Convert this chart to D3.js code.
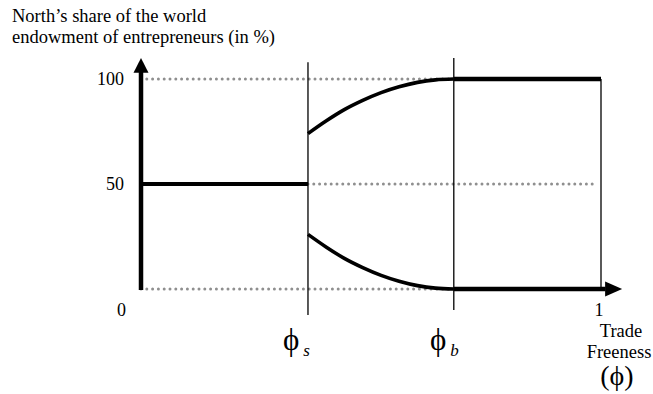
<!DOCTYPE html>
<html>
<head>
<meta charset="utf-8">
<script src="https://cdn.jsdelivr.net/npm/d3@7"></script>
<style>
  html, body { margin: 0; padding: 0; background: #fff; }
  text { font-family: "Liberation Serif", "Times New Roman", serif; fill: #000; }
</style>
</head>
<body>
<div id="chart"></div>
<script>
// # Thresholds on the trade freeness axis.
const phiS = 0.363
const phiB = 0.68

// # Share for phi below phiS (symmetric outcome).
const symPhi = [0, phiS]
const symShare = [50, 50]

// # Upper branch (core country) between phiS and phiB, then full agglomeration.
const branchPhi = [0.363, 0.403, 0.442, 0.482, 0.522, 0.561, 0.601, 0.640, 0.68]
const upperShare = [74, 80.1, 85.4, 89.8, 93.5, 96.3, 98.4, 99.6, 100]
const lowerShare = [26, 19.9, 14.6, 10.2, 6.5, 3.7, 1.6, 0.4, 0]
const corePhi = [phiB, 1]
const coreShare = [100, 100]

// # Tick labels.
const yTicks = [0, 50, 100]
const xTickLabel = '1'

const width = 653
const height = 394

const x = d3.scaleLinear().domain([0, 1]).range([141, 601])
const y = d3.scaleLinear().domain([0, 100]).range([289, 79])

const svg = d3.select('#chart')
  .append('svg')
  .attr('width', width)
  .attr('height', height)

const line = d3.line()
  .x(d => x(d[0]))
  .y(d => y(d[1]))

// # Dotted guide lines.
const dotted = (x1, x2, v) => {
  svg.append('line')
    .attr('x1', x(x1)).attr('x2', x(x2))
    .attr('y1', y(v)).attr('y2', y(v))
    .attr('stroke', '#8f8f8f')
    .attr('stroke-width', 3)
    .attr('stroke-linecap', 'round')
    .attr('stroke-dasharray', '0 5.8')
}
dotted(0, phiB, 100)
dotted(phiS, 0.985, 50)
dotted(0, phiB, 0)

// # Thin vertical lines at phiS, phiB and 1.
const vline = (p, top, bottom) => {
  svg.append('line')
    .attr('x1', x(p)).attr('x2', x(p))
    .attr('y1', y(top)).attr('y2', y(bottom))
    .attr('stroke', '#000')
    .attr('stroke-width', 1.3)
}
vline(phiS, 108, -12.4)
vline(phiB, 110, -10)
vline(1, 100, 0)

// # Y axis (thick, with arrow).
svg.append('line')
  .attr('x1', x(0)).attr('x2', x(0))
  .attr('y1', y(0) + 1).attr('y2', y(100) - 8)
  .attr('stroke', '#000')
  .attr('stroke-width', 4.5)
svg.append('path')
  .attr('d', `M${x(0)},${y(110)} L${x(0) - 7.5},${y(103)} L${x(0) + 7.5},${y(103)} Z`)
  .attr('fill', '#000')

// # X axis arrow (from phiB to the right).
svg.append('line')
  .attr('x1', x(phiB)).attr('x2', x(1.01))
  .attr('y1', y(0)).attr('y2', y(0))
  .attr('stroke', '#000')
  .attr('stroke-width', 4.5)
svg.append('path')
  .attr('d', `M${x(1.046)},${y(0)} L${x(1.009)},${y(0) - 7.5} L${x(1.009)},${y(0) + 7.5} Z`)
  .attr('fill', '#000')

// # Equilibrium lines.
const thick = (pts, w) => {
  svg.append('path')
    .datum(pts)
    .attr('d', line.curve(d3.curveMonotoneX))
    .attr('fill', 'none')
    .attr('stroke', '#000')
    .attr('stroke-width', w)
}
thick(d3.zip(symPhi, symShare), 4)
thick(d3.zip(branchPhi, upperShare), 3.6)
thick(d3.zip(branchPhi, lowerShare), 3.6)
thick(d3.zip(corePhi, coreShare), 4.5)

// # Y tick labels.
svg.selectAll('.ytick')
  .data(yTicks)
  .enter().append('text')
  .attr('class', 'ytick')
  .attr('x', d => d === 0 ? 126 : 124)
  .attr('y', d => d === 0 ? y(d) + 27 : y(d) + 6)
  .attr('text-anchor', 'end')
  .attr('font-size', 18)
  .text(d => d)

// # X tick "1".
svg.append('text')
  .attr('x', x(1) - 2).attr('y', 316)
  .attr('text-anchor', 'middle')
  .attr('font-size', 18)
  .text(xTickLabel)

// # Phi labels.
const phiLabel = (px, sub) => {
  const t = svg.append('text')
    .attr('x', px).attr('y', 350)
    .attr('font-size', 31)
  t.append('tspan').text('\u03D5')
  t.append('tspan')
    .attr('font-size', 17)
    .attr('font-style', 'italic')
    .attr('dx', 4).attr('dy', 6)
    .text(sub)
}
phiLabel(283, 's')
phiLabel(430, 'b')

// # X axis title.
svg.append('text')
  .attr('x', 621).attr('y', 337)
  .attr('text-anchor', 'middle')
  .attr('font-size', 18.5)
  .text('Trade')
svg.append('text')
  .attr('x', 619).attr('y', 358)
  .attr('text-anchor', 'middle')
  .attr('font-size', 18.5)
  .text('Freeness')
svg.append('text')
  .attr('x', 617).attr('y', 385)
  .attr('text-anchor', 'middle')
  .attr('font-size', 28)
  .text('(\u03D5)')

// # Y axis title.
svg.append('text')
  .attr('x', 12).attr('y', 22)
  .attr('font-size', 18.5)
  .text('North\u2019s share of the world')
svg.append('text')
  .attr('x', 12).attr('y', 43)
  .attr('font-size', 18.5)
  .text('endowment of entrepreneurs (in %)')
</script>
</body>
</html>
